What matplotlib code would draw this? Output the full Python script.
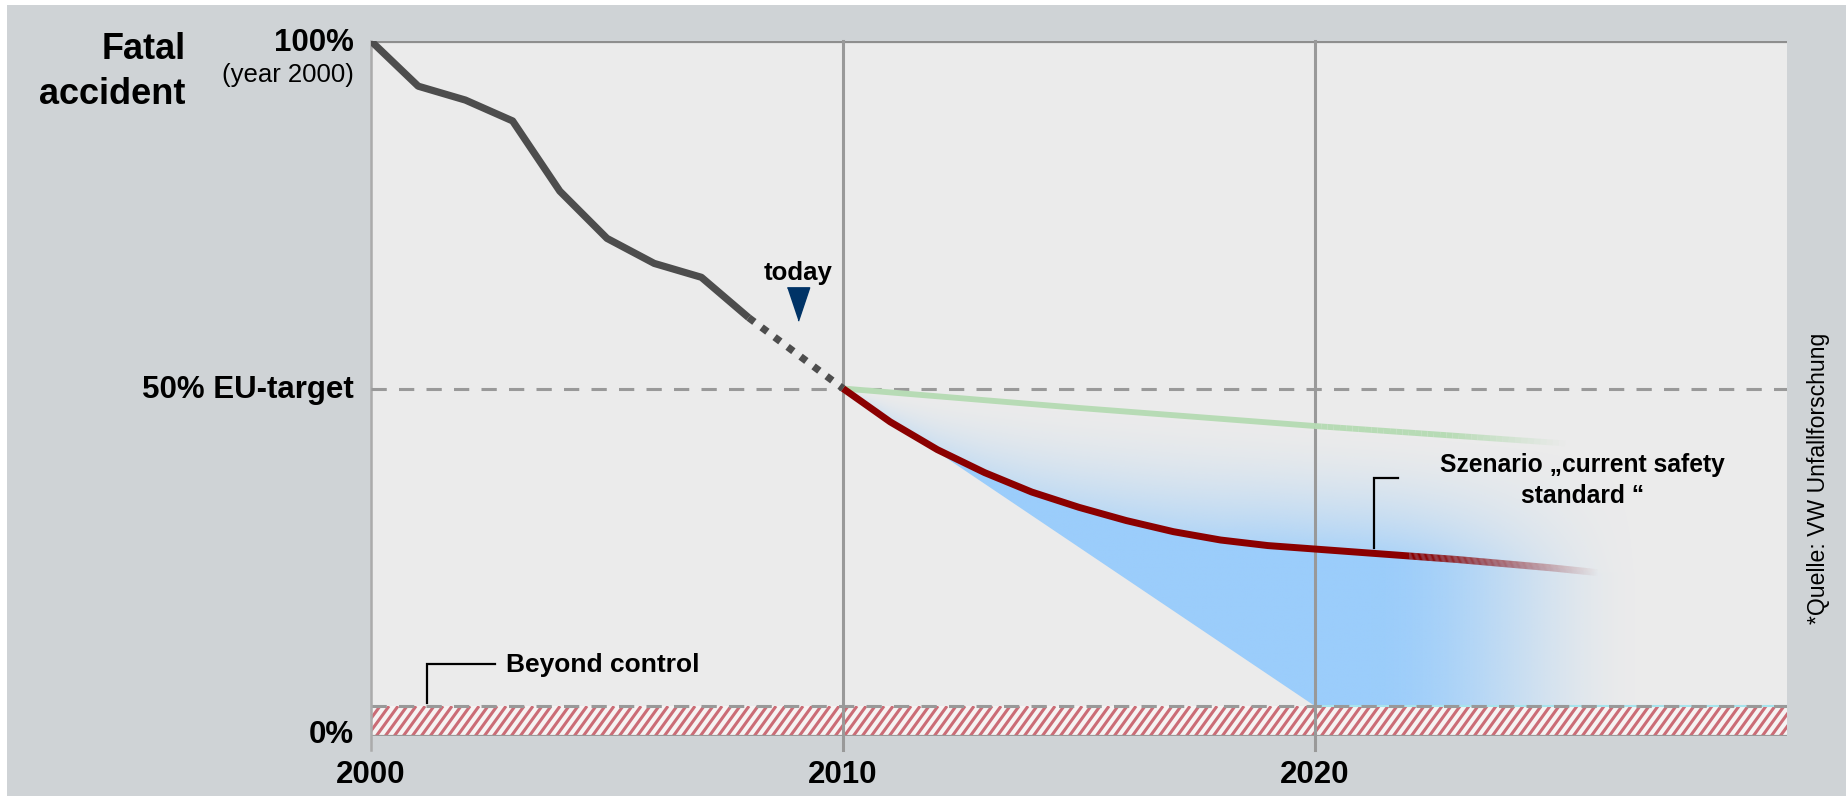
import numpy as np
import matplotlib
matplotlib.use("Agg")
import matplotlib.pyplot as plt
from matplotlib.collections import LineCollection
from matplotlib.colors import to_rgba
from matplotlib.patches import Polygon, Rectangle

plt.rcParams["font.family"] = ["Liberation Sans", "DejaVu Sans"]

# fatal accidents relative to the year 2000 (%)
hist_years = [2000, 2001, 2002, 2003, 2004, 2005, 2006, 2007, 2008]
hist_values = [100, 93.5, 91.5, 88.5, 78.4, 71.6, 68.0, 66.0, 60.2]
trend_years = [2008, 2010]
trend_values = [60.2, 50]

# scenario "current safety standard"
scen_years = [2010, 2011, 2012, 2013, 2014, 2015, 2016, 2017, 2018, 2019, 2020,
              2021, 2022, 2023, 2024, 2025, 2026]
scen_values = [50, 45.2, 41.2, 37.9, 35.1, 32.9, 31.0, 29.4, 28.2, 27.4, 26.9,
               26.4, 25.9, 25.4, 24.8, 24.2, 23.5]

# upper scenario
upper_years = [2010, 2015, 2020, 2025.3]
upper_values = [50, 47.2, 44.6, 42.1]

# potential corridor: from the EU target down to the uncontrollable share
corridor_years = [2010, 2020, 2030]
corridor_values = [50, 4.3, 4.3]

eu_target = 50
beyond_control = 4.3
today_year = 2009.04
grid_years = [2010, 2020]
year_labels = ["2000", "2010", "2020"]

BG_OUTER = "#CFD3D6"
BG_PLOT = "#EBEBEB"
GRID = "#999999"
BLUE = "#9BCDFB"
RED = "#8B0000"
GREEN = "#B7DBB5"


def fading_line(ax, xs, ys, color, lw, fade_start, fade_end, zorder):
    """Solid polyline up to fade_start, then opacity drops to zero at fade_end."""
    xs, ys = np.asarray(xs, float), np.asarray(ys, float)
    k = np.searchsorted(xs, fade_start, side="right")
    ax.plot(xs[:k], ys[:k], color=color, lw=lw, solid_capstyle="butt",
            solid_joinstyle="round", zorder=zorder)
    px, py = [], []
    for i in range(k - 1, len(xs) - 1):
        t = np.linspace(0, 1, 40, endpoint=False)
        px.extend(xs[i] + t * (xs[i + 1] - xs[i]))
        py.extend(ys[i] + t * (ys[i + 1] - ys[i]))
    px.append(xs[-1])
    py.append(ys[-1])
    px, py = np.array(px), np.array(py)
    pts = np.column_stack([px, py]).reshape(-1, 1, 2)
    segs = np.concatenate([pts[:-1], pts[1:]], axis=1)
    mid = (px[:-1] + px[1:]) / 2
    alpha = np.clip((fade_end - mid) / (fade_end - fade_start), 0, 1)
    rgba = np.array([to_rgba(color)] * len(segs))
    rgba[:, 3] = alpha
    lc = LineCollection(segs, colors=rgba, linewidths=lw, capstyle="butt",
                        joinstyle="round", zorder=zorder)
    ax.add_collection(lc)


fig = plt.figure(figsize=(18.46, 7.96), dpi=100)
fig.patch.set_facecolor("white")
fig.add_artist(Rectangle((7 / 1846, 0), 1, 791 / 796, transform=fig.transFigure,
                         facecolor=BG_OUTER, edgecolor="none", zorder=-10))

ax = fig.add_axes([371 / 1846, 60 / 796, 1416 / 1846, 695 / 796])
ax.set_facecolor(BG_PLOT)
ax.set_xlim(2000, 2030)
ax.set_ylim(0, 100)
for s in ax.spines.values():
    s.set_visible(False)
ax.set_xticks([])
ax.set_yticks([])

# blue corridor with soft haze above the scenario line and fade to the right
gx = np.linspace(2010, 2030, 700)
gy = np.linspace(beyond_control, eu_target, 500)
X, Y = np.meshgrid(gx, gy)
r = np.interp(X, scen_years, scen_values)
g = np.interp(X, upper_years, upper_values)
t = np.clip((Y - r) / np.maximum(g - r, 1e-6), 0, 1)
strength = 0.3 + 0.5 * np.clip((X - 2010) / 9, 0, 1)
haze = strength * (1 - t) ** 1.7
alpha = np.where(Y <= r, 1.0, haze)
xf = np.clip((2027.0 - X) / (2027.0 - 2021.2), 0, 1)
xf = xf * xf * (3 - 2 * xf)
alpha = alpha * xf
img = np.zeros(X.shape + (4,))
img[..., :3] = to_rgba(BLUE)[:3]
img[..., 3] = alpha
im = ax.imshow(img, extent=[2010, 2030, beyond_control, eu_target], origin="lower",
               aspect="auto", interpolation="bilinear", zorder=1)
clip_pts = list(zip(upper_years, upper_values)) + [(2030, upper_values[-1]),
                                                   (2030, corridor_values[2]),
                                                   (corridor_years[1], corridor_values[1]),
                                                   (corridor_years[0], corridor_values[0])]
clip = Polygon(clip_pts, closed=True, transform=ax.transData, facecolor="none")
im.set_clip_path(clip)

# uncontrollable share: band with steep red stripes
band = Rectangle((2000, 0), 30, beyond_control, facecolor="#F6F3F3", edgecolor="none",
                 zorder=2)
ax.add_patch(band)
step = 9 / 47.2          # stripe spacing, years
lean = 0.46              # horizontal run of one stripe across the band, years
starts = np.arange(2000 - lean, 2030 + step, step)
stripes = [[(x0, 0), (x0 + lean, beyond_control)] for x0 in starts]
sc = LineCollection(stripes, colors="#CB6C76", linewidths=2.2, capstyle="butt",
                    zorder=2.2)
ax.add_collection(sc)
sc.set_clip_path(band)
ax.plot([2020, 2030], [beyond_control, beyond_control], color="#A8E4EC", lw=1.5, zorder=2.5)
ax.axhline(beyond_control, color=GRID, lw=2.2, dashes=(5, 4), zorder=3)
ax.axhline(0, color=GRID, lw=1.6, zorder=3)

# frame and grid
ax.axhline(100, color="#8E8E8E", lw=2.3, zorder=3)
ax.axvline(2000, ymin=-0.02, ymax=1, color="#ABABAB", lw=1.8, clip_on=False, zorder=3)
for yr in grid_years:
    ax.axvline(yr, ymin=-0.02, ymax=1, color=GRID, lw=2.2, clip_on=False, zorder=3)
ax.axhline(eu_target, color=GRID, lw=2.2, dashes=(5, 4), zorder=3)

# scenario lines
fading_line(ax, upper_years, upper_values, GREEN, 4.2, 2022.8, 2025.3, zorder=4)
fading_line(ax, scen_years, scen_values, RED, 5.0, 2022.2, 2026.0, zorder=5)

# history and trend to today
ax.plot(hist_years, hist_values, color="#4D4D4D", lw=5.2, solid_capstyle="butt",
        solid_joinstyle="round", zorder=6)
ax.plot(trend_years, trend_values, color="#4D4D4D", lw=5.2, dashes=(1.0, 1.25),
        dash_capstyle="butt", zorder=6)

# today marker
tri = [(-0.67, 1), (0.67, 1), (0, -1)]
ax.plot([today_year], [62.2], marker=tri, ms=24, color="#003366", lw=0, zorder=7)
ax.text(today_year, 65.6, "today", ha="center", va="baseline", fontsize=18.5,
        fontweight="bold", zorder=7)

# annotations
ax.plot([2001.19, 2001.19, 2002.63], [beyond_control + 0.4, 10.4, 10.4], color="black",
        lw=1.6, solid_joinstyle="miter", zorder=7)
ax.text(2002.85, 10.2, "Beyond control", ha="left", va="center", fontsize=19,
        fontweight="bold", zorder=7)

ax.plot([2021.25, 2021.25, 2021.76], [27.0, 37.1, 37.1], color="black", lw=1.6,
        solid_joinstyle="miter", zorder=7)
ax.text(2025.67, 38.0, "Szenario \u201ecurrent safety", ha="center", va="baseline",
        fontsize=17.7, fontweight="bold", zorder=7)
ax.text(2025.67, 33.5, "standard \u201c", ha="center", va="baseline",
        fontsize=17.7, fontweight="bold", zorder=7)

# axis labels
ytr = ax.get_yaxis_transform()
xtr = ax.get_xaxis_transform()
ax.text(-0.1307, 97.4, "Fatal", transform=ytr, ha="right", va="baseline",
        fontsize=26, fontweight="bold")
ax.text(-0.1307, 90.9, "accident", transform=ytr, ha="right", va="baseline",
        fontsize=26, fontweight="bold")
ax.text(-0.012, 98.5, "100%", transform=ytr, ha="right", va="baseline",
        fontsize=22.5, fontweight="bold")
ax.text(-0.012, 94.1, "(year 2000)", transform=ytr, ha="right", va="baseline",
        fontsize=18.5)
ax.text(-0.012, 48.6, "50% EU-target", transform=ytr, ha="right", va="baseline",
        fontsize=22.5, fontweight="bold")
ax.text(-0.012, -1.0, "0%", transform=ytr, ha="right", va="baseline",
        fontsize=22.5, fontweight="bold")
for yr, lab in zip([2000] + grid_years, year_labels):
    ax.text(yr, -0.0676, lab, transform=xtr, ha="center", va="baseline",
            fontsize=22.5, fontweight="bold")

ax.text(1.022, 37.1, "*Quelle: VW Unfallforschung", transform=ytr, rotation=90,
        ha="center", va="center", fontsize=16.6)

fig.savefig("out.png", dpi=100)
